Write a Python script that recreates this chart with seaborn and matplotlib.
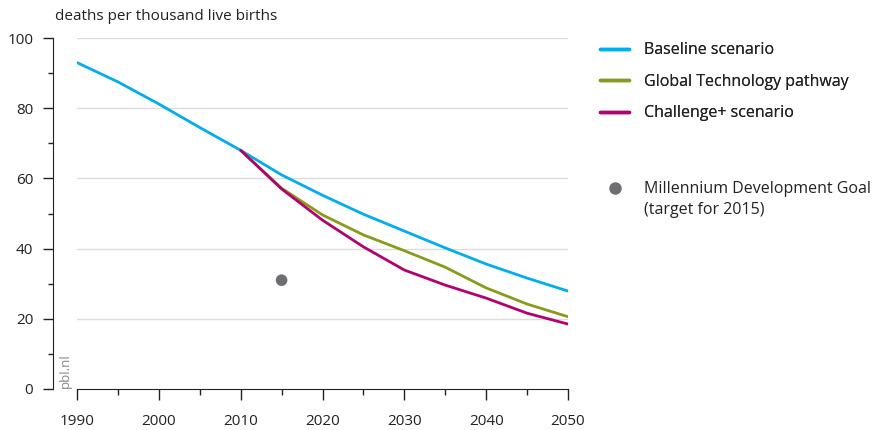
import pandas as pd
import matplotlib.pyplot as plt
import seaborn as sns
from matplotlib.lines import Line2D
from matplotlib.ticker import MultipleLocator

# child mortality, deaths per thousand live births
years_base = [1990, 1995, 2000, 2005, 2010, 2015, 2020, 2025, 2030, 2035, 2040, 2045, 2050]
baseline = [93, 87.5, 81.2, 74.5, 68, 61, 55.2, 49.8, 45, 40.2, 35.6, 31.6, 27.9]
years_scen = [2010, 2015, 2020, 2025, 2030, 2035, 2040, 2045, 2050]
global_tech = [68, 57.2, 49.6, 43.9, 39.4, 34.7, 28.8, 24.2, 20.6]
challenge = [68, 57.0, 48.1, 40.5, 33.9, 29.6, 25.9, 21.6, 18.5]
mdg_year = [2015]
mdg_value = [31]

labels = ['Baseline scenario', 'Global Technology pathway', 'Challenge+ scenario']
colors = ['#00aeef', '#8a9a1b', '#b5006f']

df = pd.concat([
    pd.DataFrame({'year': years_base, 'value': baseline, 'scenario': labels[0]}),
    pd.DataFrame({'year': years_scen, 'value': global_tech, 'scenario': labels[1]}),
    pd.DataFrame({'year': years_scen, 'value': challenge, 'scenario': labels[2]}),
])

sns.set_style('white')
plt.rcParams['font.family'] = ['Open Sans', 'DejaVu Sans']
text_col = '#222222'
px = 72 / 100  # points per pixel at dpi 100

fig = plt.figure(figsize=(8.87, 4.30), dpi=100)
ax = fig.add_axes([77 / 887, 41 / 430, 491 / 887, 351 / 430])

sns.lineplot(data=df, x='year', y='value', hue='scenario', palette=dict(zip(labels, colors)),
             linewidth=2.0, legend=False, ax=ax, zorder=3)
sns.scatterplot(x=mdg_year, y=mdg_value, color='#6d6d72', s=70, edgecolor='none', ax=ax, zorder=4)

ax.set_xlim(1990, 2050)
ax.set_ylim(0, 100)
ax.set_xlabel('')
ax.set_ylabel('')
for y in [20, 40, 60, 80, 100]:
    ax.axhline(y, color='#dcdcdc', linewidth=1, zorder=1)

ax.xaxis.set_major_locator(MultipleLocator(10))
ax.xaxis.set_minor_locator(MultipleLocator(5))
ax.yaxis.set_major_locator(MultipleLocator(20))
ax.yaxis.set_minor_locator(MultipleLocator(10))
ax.tick_params(axis='x', which='major', length=11 * px, width=1, color=text_col, labelsize=11,
               labelcolor=text_col, pad=10, direction='out')
ax.tick_params(axis='x', which='minor', length=6 * px, width=1, color=text_col, direction='out')
ax.tick_params(axis='y', which='major', length=10 * px, width=1, color=text_col, labelsize=11,
               labelcolor=text_col, pad=7, direction='out')
ax.tick_params(axis='y', which='minor', length=5 * px, width=1, color=text_col, direction='out')
ax.xaxis.set_ticks_position('bottom')
ax.yaxis.set_ticks_position('left')

for s in ['top', 'right']:
    ax.spines[s].set_visible(False)
ax.spines['left'].set_position(('outward', 24 * px))
ax.spines['left'].set_color(text_col)
ax.spines['bottom'].set_color(text_col)

fig.text(55 / 887, 1 - 16 / 430, 'deaths per thousand live births', fontsize=11,
         color=text_col, va='center', ha='left')
fig.text(65 / 887, 1 - 388 / 430, 'pbl.nl', fontsize=9.5, color='#888888',
         rotation=90, ha='center', va='bottom')

# legend
line_handles = [Line2D([0], [0], color=c, linewidth=2.5) for c in colors]
leg1 = fig.legend(line_handles, labels, loc='upper left', bbox_to_anchor=(586 / 887, 1 - 28 / 430),
                  frameon=False, fontsize=11.5, handlelength=1.8, handletextpad=0.95,
                  labelspacing=0.97, labelcolor=text_col)
dot = Line2D([0], [0], marker='o', color='none', markerfacecolor='#6d6d72',
             markeredgecolor='none', markersize=9)
fig.legend([dot], ['Millennium Development Goal'], loc='upper left',
           bbox_to_anchor=(586 / 887, 1 - 167 / 430), frameon=False, fontsize=11.5,
           handlelength=1.8, handletextpad=0.95, labelcolor=text_col)
fig.add_artist(leg1)
fig.text(644 / 887, 1 - 210 / 430, '(target for 2015)', fontsize=11.5, color=text_col,
         ha='left', va='center')

plt.savefig('out.png', dpi=100)
plt.close()
